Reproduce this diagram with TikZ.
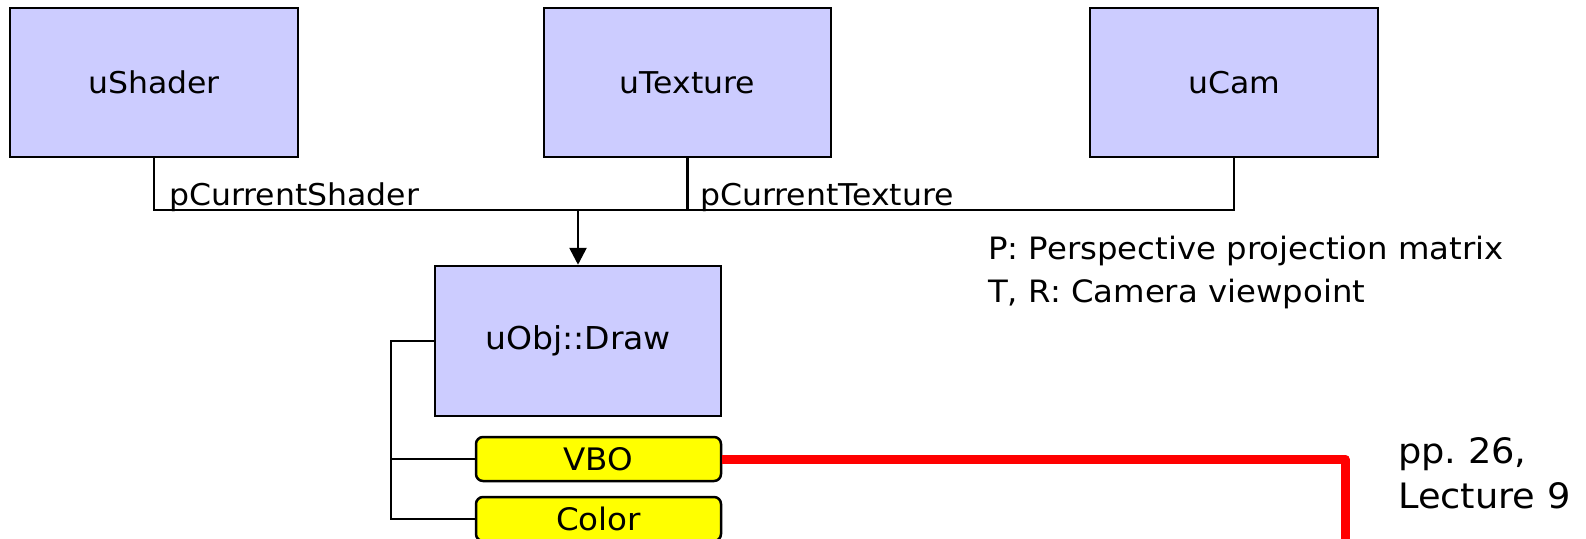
\documentclass[tikz,border=0pt]{standalone}
\usepackage{fontspec}
\setmainfont{DejaVu Sans}
\newfontfamily\lblfont[FakeStretch=1.05]{DejaVu Sans}
\usetikzlibrary{arrows.meta}
\definecolor{classfill}{RGB}{204,204,255}
\definecolor{memberfill}{RGB}{255,255,0}
\frenchspacing
\tikzset{
  classbox/.style={draw=black, line width=2.5pt, fill=classfill, inner sep=0pt,
    minimum width=#1, minimum height=149pt, font=\lblfont\fontsize{30}{36}\selectfont},
  memberbox/.style={draw=black, line width=2.5pt, fill=memberfill, rounded corners=7pt,
    inner sep=0pt, minimum width=245pt, minimum height=44pt,
    font=\lblfont\fontsize{31}{36}\selectfont},
  wire/.style={draw=black, line width=2.7pt},
  linkline/.style={draw=red, line width=9pt, line join=round},
  note/.style={inner sep=0pt, anchor=base west, font=\lblfont\fontsize{#1}{#1}\selectfont},
}
\begin{document}
\begin{tikzpicture}[x=1pt, y=-1pt]
\useasboundingbox (0,0) rectangle (1586,538);

% classes on top
\node[classbox=288pt] (shader)  at (154,82.5)  {uShader};
\node[classbox=287pt] (texture) at (687.5,82.5) {uTexture};
\node[classbox=288pt] (cam)     at (1234,82.5) {uCam};

% draw call and its members
\node[classbox=286pt, minimum height=150pt, font=\lblfont\fontsize{31.5}{36}\selectfont]
  (obj) at (578,341) {uObj::Draw};
\node[memberbox] (vbo)   at (598.5,459) {VBO};
\node[memberbox] (color) at (598.5,519) {Color};

% bus joining the three classes
\coordinate (bus) at (578,210);
\draw[wire] (shader.south) |- (bus -| cam.south) -- (cam.south);
\draw[wire] (texture.south) -- (texture.south |- bus);
\draw[wire, -{Triangle[width=17pt,length=17pt]}] (bus) -- (obj.north);

\node[note=30] (lshader)  at (169,205) {pCurrentShader};
\node[note=30] (ltexture) at (700,205) {pCurrentTexture};

% member tree
\coordinate (trunk) at (391,341);
\draw[wire] (obj.west) -| (color.west -| trunk) -- (color.west);
\draw[wire] (vbo.west -| trunk) -- (vbo.west);

% link to the lecture reference
\coordinate (linkend) at (1345,560);
\draw[linkline] (vbo.east) -| (linkend);

% notes
\node[note=30.8] (np) at (988,259) {P: Perspective projection matrix};
\node[note=30.8] (nt) at (988,302.7) {T, R: Camera viewpoint};
\node[note=35] (pp) at (1398,463) {pp. 26,};
\node[note=35] (lec) at (1398,508) {Lecture 9};
\end{tikzpicture}
\end{document}
